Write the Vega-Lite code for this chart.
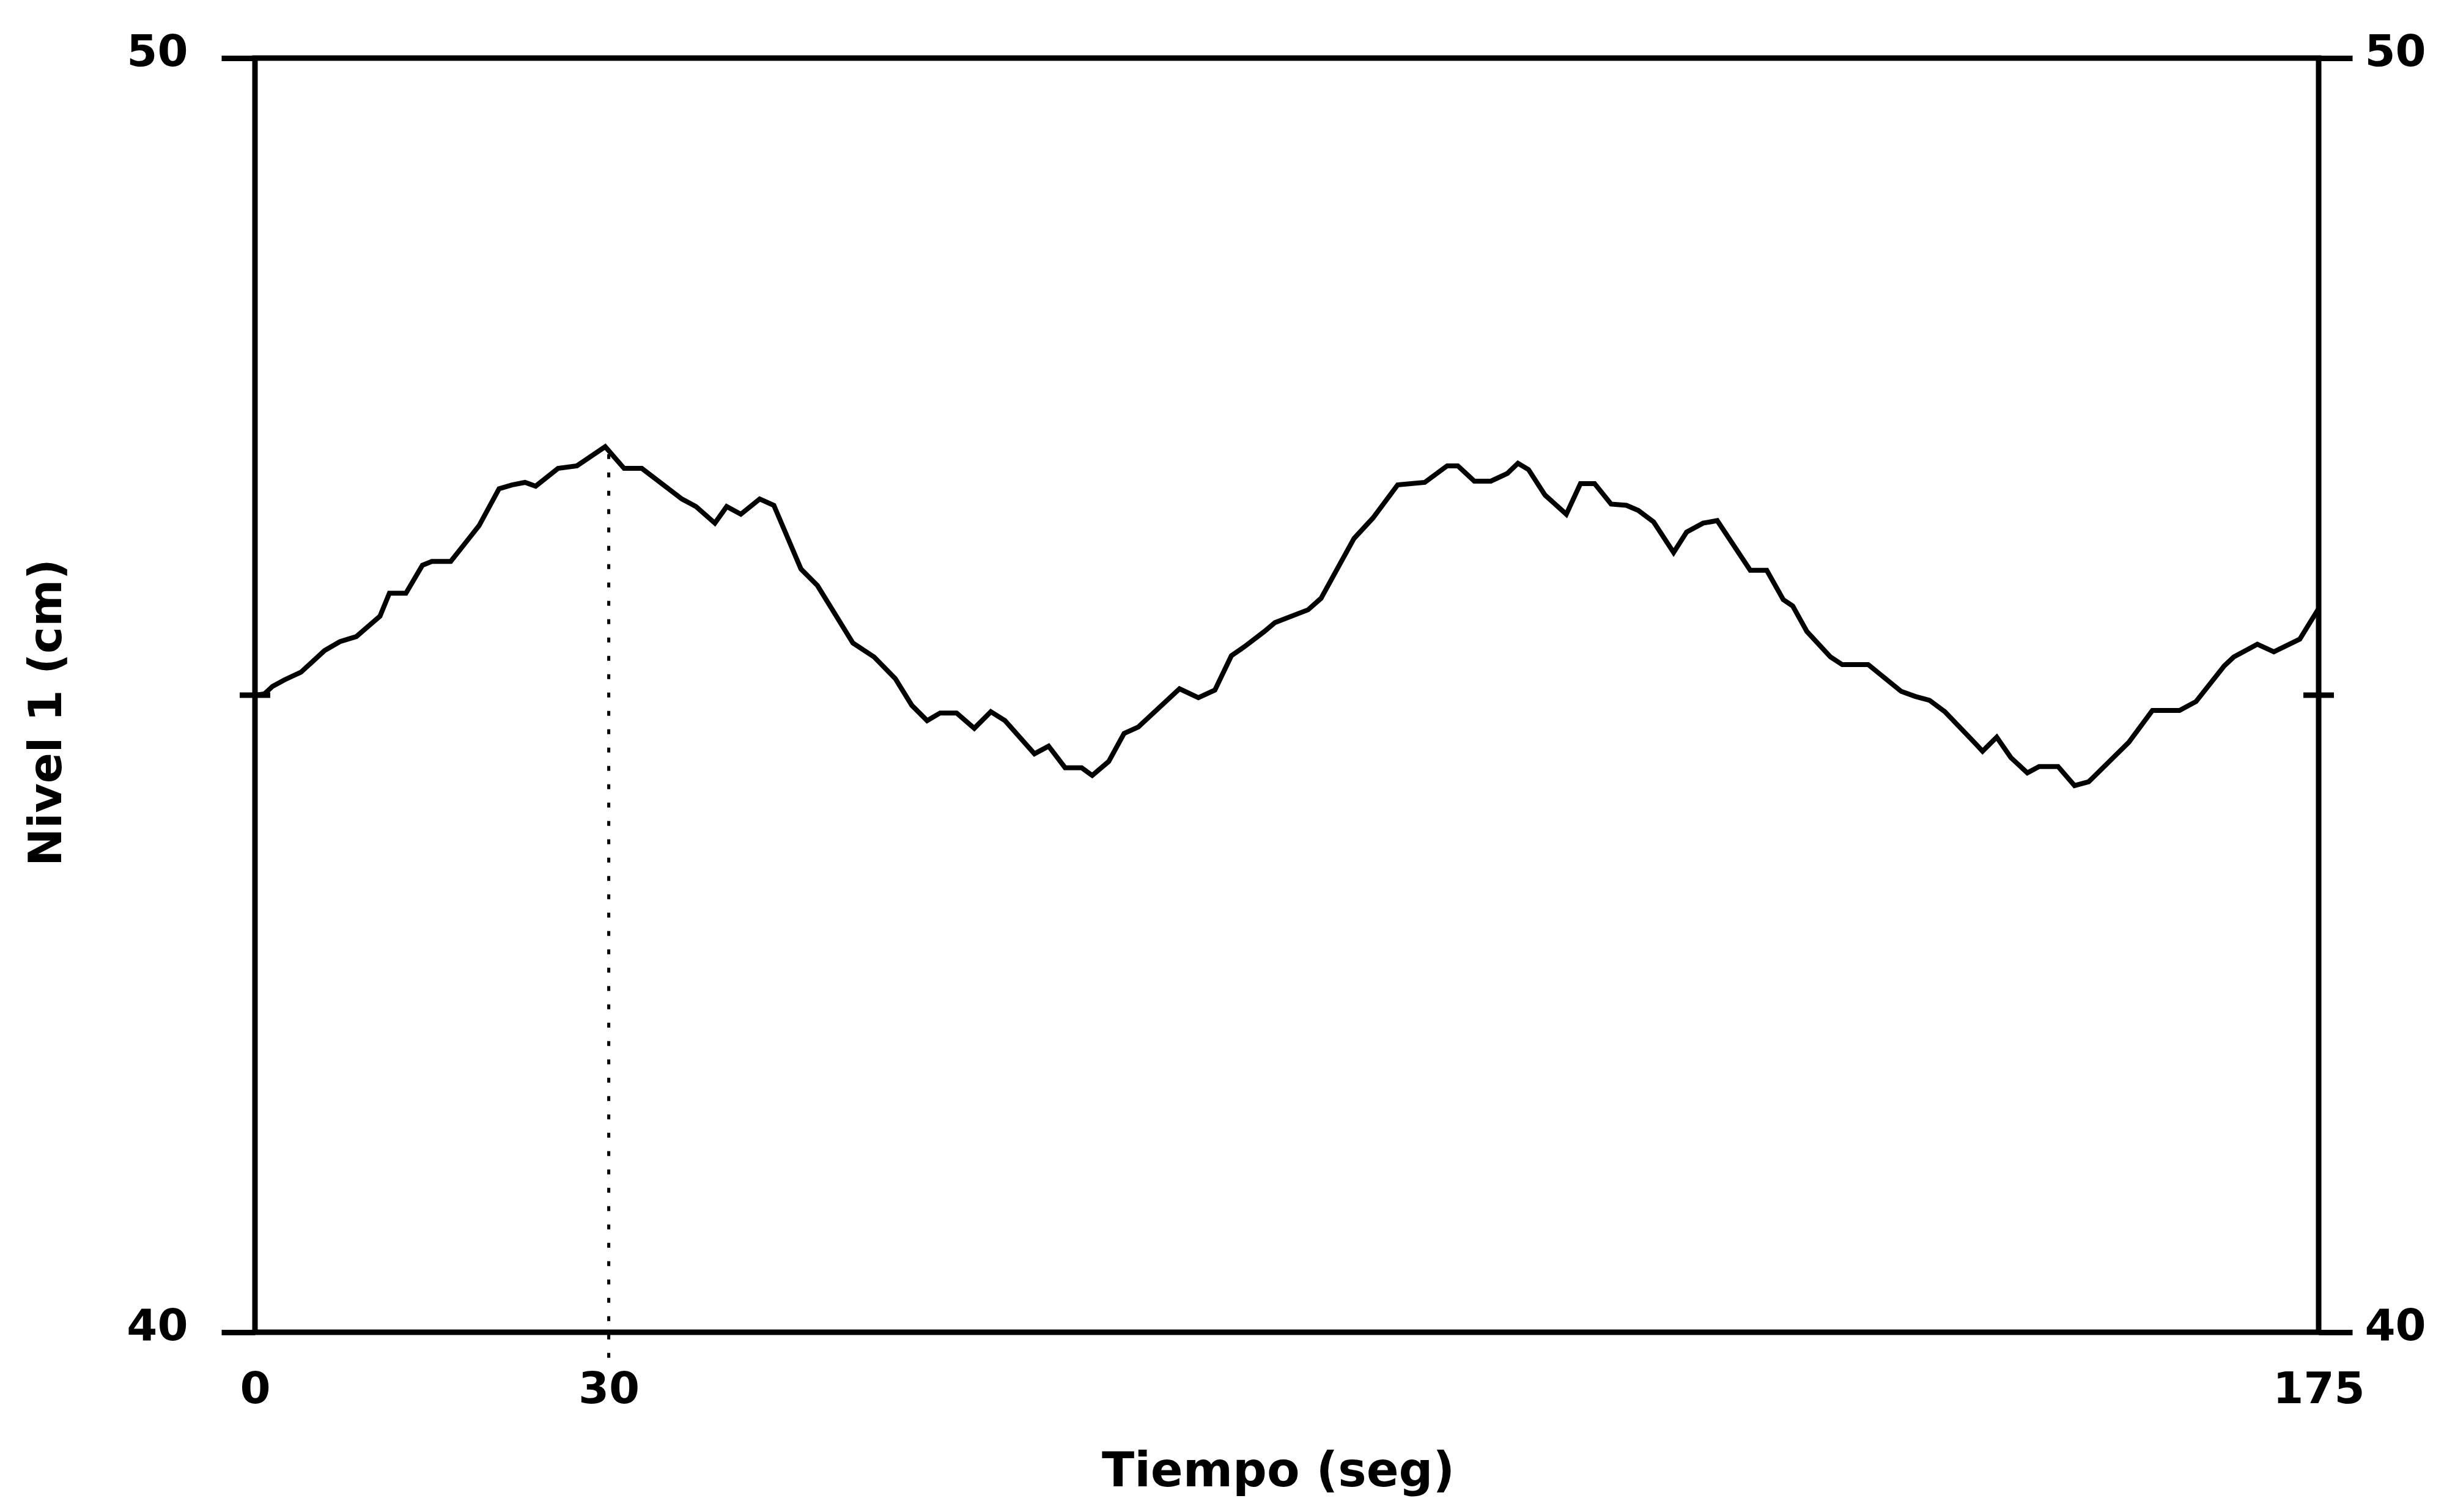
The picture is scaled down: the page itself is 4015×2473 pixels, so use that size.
{
  "$schema": "https://vega.github.io/schema/vega-lite/v6.json",
  "width": 3375,
  "height": 2084,
  "autosize": {"type": "none"},
  "padding": {"left": 417, "top": 95, "right": 223, "bottom": 294},
  "background": "white",
  "config": {
    "view": {"stroke": "black", "strokeWidth": 9},
    "axis": {"labelFont": "DejaVu Sans", "titleFont": "DejaVu Sans", "labelColor": "black", "titleColor": "black", "grid": false, "domain": false}
  },
  "datasets": {
    "serie": [
      {"t": 0, "nivel": 45.00}, {"t": 0.8, "nivel": 45.01}, {"t": 1.5, "nivel": 45.07}, {"t": 2.5, "nivel": 45.12},
      {"t": 3.9, "nivel": 45.18}, {"t": 5.9, "nivel": 45.35}, {"t": 7.2, "nivel": 45.42}, {"t": 8.6, "nivel": 45.46},
      {"t": 10.6, "nivel": 45.62}, {"t": 11.4, "nivel": 45.80}, {"t": 12.8, "nivel": 45.80}, {"t": 14.2, "nivel": 46.02},
      {"t": 15.0, "nivel": 46.05}, {"t": 16.6, "nivel": 46.05}, {"t": 19.0, "nivel": 46.33}, {"t": 20.7, "nivel": 46.62},
      {"t": 21.8, "nivel": 46.65}, {"t": 22.9, "nivel": 46.67}, {"t": 23.8, "nivel": 46.64}, {"t": 25.7, "nivel": 46.78},
      {"t": 27.3, "nivel": 46.80}, {"t": 29.7, "nivel": 46.95}, {"t": 31.3, "nivel": 46.78}, {"t": 32.8, "nivel": 46.78},
      {"t": 36.2, "nivel": 46.54}, {"t": 37.4, "nivel": 46.48}, {"t": 39.0, "nivel": 46.35}, {"t": 40.0, "nivel": 46.48},
      {"t": 41.2, "nivel": 46.42}, {"t": 42.8, "nivel": 46.54}, {"t": 44.0, "nivel": 46.49}, {"t": 46.3, "nivel": 45.99},
      {"t": 47.7, "nivel": 45.86}, {"t": 50.7, "nivel": 45.41}, {"t": 52.5, "nivel": 45.30}, {"t": 54.3, "nivel": 45.13},
      {"t": 55.7, "nivel": 44.92}, {"t": 57.0, "nivel": 44.80}, {"t": 58.1, "nivel": 44.86}, {"t": 59.5, "nivel": 44.86},
      {"t": 61.0, "nivel": 44.74}, {"t": 62.4, "nivel": 44.87}, {"t": 63.6, "nivel": 44.80}, {"t": 66.1, "nivel": 44.54},
      {"t": 67.3, "nivel": 44.60}, {"t": 68.7, "nivel": 44.43}, {"t": 70.1, "nivel": 44.43}, {"t": 71.0, "nivel": 44.37},
      {"t": 72.4, "nivel": 44.48}, {"t": 73.7, "nivel": 44.70}, {"t": 74.9, "nivel": 44.75}, {"t": 78.4, "nivel": 45.05},
      {"t": 80.0, "nivel": 44.98}, {"t": 81.4, "nivel": 45.04}, {"t": 82.8, "nivel": 45.31}, {"t": 83.9, "nivel": 45.38},
      {"t": 85.6, "nivel": 45.50}, {"t": 86.5, "nivel": 45.57}, {"t": 89.3, "nivel": 45.67}, {"t": 90.4, "nivel": 45.76},
      {"t": 93.2, "nivel": 46.23}, {"t": 94.8, "nivel": 46.39}, {"t": 96.9, "nivel": 46.65}, {"t": 99.2, "nivel": 46.67},
      {"t": 101.1, "nivel": 46.80}, {"t": 102.0, "nivel": 46.80}, {"t": 103.4, "nivel": 46.68}, {"t": 104.8, "nivel": 46.68},
      {"t": 106.2, "nivel": 46.74}, {"t": 107.1, "nivel": 46.82}, {"t": 108.0, "nivel": 46.77}, {"t": 109.4, "nivel": 46.57},
      {"t": 111.2, "nivel": 46.42}, {"t": 112.4, "nivel": 46.66}, {"t": 113.6, "nivel": 46.66}, {"t": 115.0, "nivel": 46.50},
      {"t": 116.3, "nivel": 46.49}, {"t": 117.3, "nivel": 46.45}, {"t": 118.6, "nivel": 46.36}, {"t": 120.3, "nivel": 46.12},
      {"t": 121.4, "nivel": 46.28}, {"t": 122.8, "nivel": 46.35}, {"t": 124.0, "nivel": 46.37}, {"t": 126.8, "nivel": 45.98},
      {"t": 128.2, "nivel": 45.98}, {"t": 129.6, "nivel": 45.75}, {"t": 130.4, "nivel": 45.70}, {"t": 131.6, "nivel": 45.50},
      {"t": 133.6, "nivel": 45.30}, {"t": 134.6, "nivel": 45.24}, {"t": 136.8, "nivel": 45.24}, {"t": 139.6, "nivel": 45.03},
      {"t": 140.8, "nivel": 44.99}, {"t": 142.0, "nivel": 44.96}, {"t": 143.3, "nivel": 44.87}, {"t": 145.9, "nivel": 44.62},
      {"t": 146.5, "nivel": 44.56}, {"t": 147.7, "nivel": 44.67}, {"t": 148.9, "nivel": 44.51}, {"t": 150.3, "nivel": 44.39},
      {"t": 151.3, "nivel": 44.44}, {"t": 152.9, "nivel": 44.44}, {"t": 154.3, "nivel": 44.29}, {"t": 155.5, "nivel": 44.32},
      {"t": 158.9, "nivel": 44.63}, {"t": 160.9, "nivel": 44.88}, {"t": 163.2, "nivel": 44.88}, {"t": 164.6, "nivel": 44.95},
      {"t": 167.0, "nivel": 45.23}, {"t": 167.8, "nivel": 45.30}, {"t": 169.8, "nivel": 45.40}, {"t": 171.2, "nivel": 45.34},
      {"t": 173.4, "nivel": 45.44}, {"t": 175.0, "nivel": 45.68}
    ],
    "marcador": [{"t": 30, "bajo": 39.8, "alto": 46.95}],
    "marcas": [{"t": 0, "nivel": 45}, {"t": 175, "nivel": 45}]
  },
  "layer": [
    {
      "data": {"name": "serie"},
      "mark": {"type": "line", "color": "black", "strokeWidth": 8, "strokeJoin": "miter", "clip": true},
      "encoding": {
        "x": {
          "field": "t", "type": "quantitative",
          "scale": {"domain": [0, 175], "nice": false, "zero": false},
          "axis": {
            "values": [0, 30, 175], "ticks": false, "labelFlush": false, "labelOverlap": false,
            "labelFontSize": 72, "labelFontWeight": "bold", "labelPadding": 58,
            "title": "Tiempo (seg)", "titleFontSize": 78, "titleFontWeight": "bold",
            "titleX": 1673, "titleY": 228, "titleBaseline": "middle", "titleAnchor": "middle"
          }
        },
        "y": {
          "field": "nivel", "type": "quantitative",
          "scale": {"domain": [40, 50], "nice": false, "zero": false},
          "axis": {
            "orient": "left", "values": [40, 50], "tickSize": 55, "tickWidth": 9, "tickColor": "black",
            "labelFontSize": 72, "labelFontWeight": "bold", "labelPadding": 55, "labelOffset": -10, "labelOverlap": false,
            "title": "Nivel 1 (cm)", "titleFontSize": 74, "titleFontWeight": "bold",
            "titleAngle": -90, "titleX": -340, "titleY": 1070, "titleBaseline": "middle", "titleAlign": "center"
          }
        }
      }
    },
    {
      "data": {"name": "marcador"},
      "mark": {"type": "rule", "color": "black", "strokeWidth": 5, "strokeDash": [8, 22]},
      "encoding": {
        "x": {"field": "t", "type": "quantitative"},
        "y": {
          "field": "bajo", "type": "quantitative",
          "axis": {
            "orient": "right", "values": [40, 50], "tickSize": 55, "tickWidth": 9, "tickColor": "black",
            "labelFontSize": 72, "labelFontWeight": "bold", "labelPadding": 20, "labelOffset": -10, "labelOverlap": false,
            "title": null
          }
        },
        "y2": {"field": "alto"}
      }
    },
    {
      "data": {"name": "marcas"},
      "mark": {"type": "tick", "orient": "horizontal", "color": "black", "opacity": 1, "size": 50, "thickness": 9},
      "encoding": {
        "x": {"field": "t", "type": "quantitative"},
        "y": {"field": "nivel", "type": "quantitative", "axis": null}
      }
    }
  ],
  "resolve": {"axis": {"y": "independent"}}
}
